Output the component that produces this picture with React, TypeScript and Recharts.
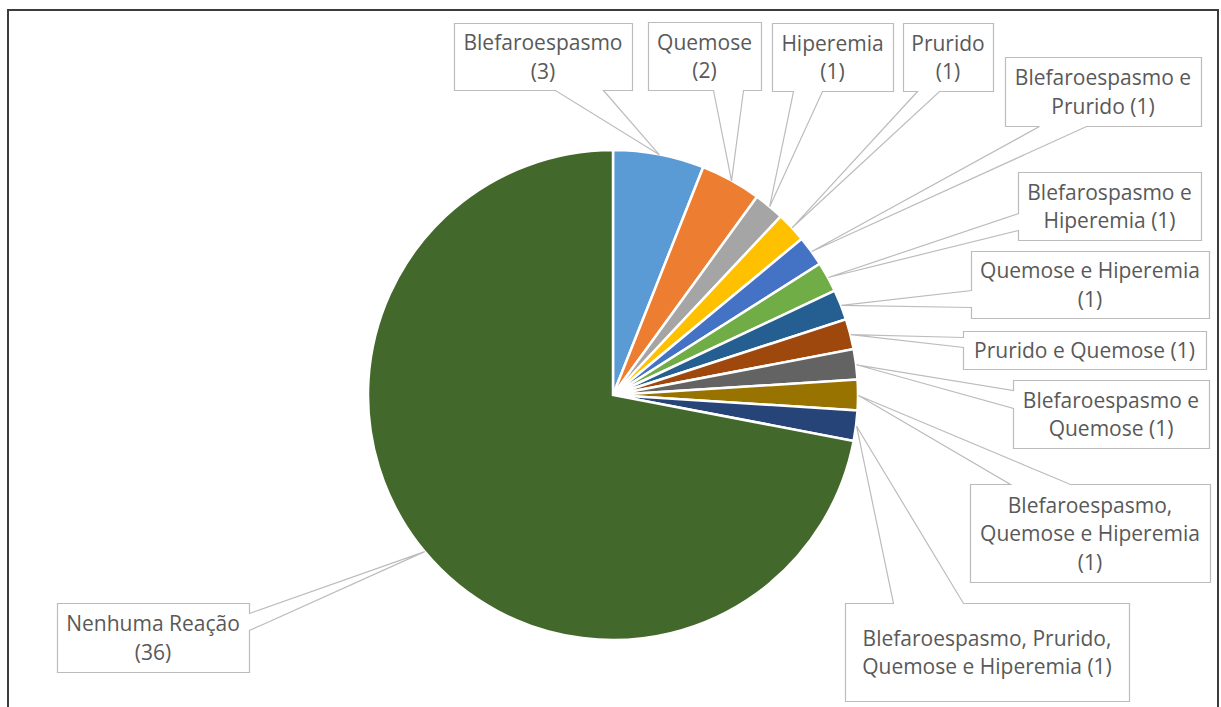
import React from "react";
import { PieChart, Pie, Cell } from "recharts";

const categories = [
  "Blefaroespasmo",
  "Quemose",
  "Hiperemia",
  "Prurido",
  "Blefaroespasmo e Prurido",
  "Blefarospasmo e Hiperemia",
  "Quemose e Hiperemia",
  "Prurido e Quemose",
  "Blefaroespasmo e Quemose",
  "Blefaroespasmo, Quemose e Hiperemia",
  "Blefaroespasmo, Prurido, Quemose e Hiperemia",
  "Nenhuma Reação",
];

const counts = [3, 2, 1, 1, 1, 1, 1, 1, 1, 1, 1, 36];

const labelLines: string[][] = [
  ["Blefaroespasmo", "(3)"],
  ["Quemose", "(2)"],
  ["Hiperemia", "(1)"],
  ["Prurido", "(1)"],
  ["Blefaroespasmo e", "Prurido (1)"],
  ["Blefarospasmo e", "Hiperemia (1)"],
  ["Quemose e Hiperemia", "(1)"],
  ["Prurido e Quemose (1)"],
  ["Blefaroespasmo e", "Quemose (1)"],
  ["Blefaroespasmo,", "Quemose e Hiperemia", "(1)"],
  ["Blefaroespasmo, Prurido,", "Quemose e Hiperemia (1)"],
  ["Nenhuma Reação", "(36)"],
];

const colors = [
  "#5B9BD5",
  "#ED7D31",
  "#A5A5A5",
  "#FFC000",
  "#4472C4",
  "#70AD47",
  "#255E91",
  "#9E480E",
  "#636363",
  "#997300",
  "#264478",
  "#43682B",
];

// callout box layout (svg coordinates), wedge side and wedge base positions
type Box = { x: number; y: number; w: number; h: number; side: string; a: number; b: number };
const boxes: Box[] = [
  { x: 445, y: 12, w: 178, h: 67, side: "bottom", a: 546, b: 594 },
  { x: 639, y: 11, w: 113, h: 68, side: "bottom", a: 704, b: 734 },
  { x: 763, y: 12, w: 121, h: 68, side: "bottom", a: 784, b: 813 },
  { x: 894, y: 12, w: 90, h: 68, side: "bottom", a: 908, b: 930 },
  { x: 996, y: 46, w: 196, h: 69, side: "bottom", a: 1030, b: 1077 },
  { x: 1009, y: 161, w: 183, h: 68, side: "left", a: 202, b: 219 },
  { x: 962, y: 240, w: 238, h: 67, side: "left", a: 279, b: 296 },
  { x: 954, y: 320, w: 243, h: 38, side: "left", a: 326, b: 336 },
  { x: 1004, y: 369, w: 196, h: 68, side: "left", a: 379, b: 397 },
  { x: 961, y: 473, w: 240, h: 98, side: "top", a: 1001, b: 1061 },
  { x: 836, y: 592, w: 284, h: 98, side: "top", a: 884, b: 954 },
  { x: 48, y: 592, w: 192, h: 69, side: "right", a: 602, b: 619 },
];

const data = categories.map((name, i) => ({ name, value: counts[i] }));

const RADIAN = Math.PI / 180;

function calloutPath(bx: Box, tx: number, ty: number) {
  const { x, y, w, h, side, a, b } = bx;
  const pts: number[][] = [];
  pts.push([x, y]);
  if (side === "top") pts.push([a, y], [tx, ty], [b, y]);
  pts.push([x + w, y]);
  if (side === "right") pts.push([x + w, a], [tx, ty], [x + w, b]);
  pts.push([x + w, y + h]);
  if (side === "bottom") pts.push([b, y + h], [tx, ty], [a, y + h]);
  pts.push([x, y + h]);
  if (side === "left") pts.push([x, b], [tx, ty], [x, a]);
  return "M" + pts.map((p) => `${p[0] + 0.5},${p[1] + 0.5}`).join("L") + "Z";
}

function renderLabel(props: any) {
  const { cx, cy, midAngle, outerRadius, index } = props;
  const tx = cx + outerRadius * Math.cos(-midAngle * RADIAN);
  const ty = cy + outerRadius * Math.sin(-midAngle * RADIAN);
  const bx = boxes[index];
  const lines = labelLines[index];
  const n = lines.length;
  const lh = 28.5;
  return (
    <g key={`lab-${index}`}>
      <path d={calloutPath(bx, tx, ty)} fill="#ffffff" stroke="#bcbcbc" strokeWidth={1.2} />
      {lines.map((ln, i) => (
        <text
          key={i}
          x={bx.x + bx.w / 2}
          y={bx.y + bx.h / 2 + (i - (n - 1) / 2) * lh + 8}
          textAnchor="middle"
          fontFamily="'Open Sans', sans-serif"
          fontSize={21}
          fill="#595959"
        >
          {ln}
        </text>
      ))}
    </g>
  );
}

export default function App() {
  return (
    <div
      style={{
        position: "fixed",
        left: 7,
        top: 9,
        width: 1212,
        height: 710,
        boxSizing: "border-box",
        border: "2px solid #3c3c3c",
        borderBottom: "none",
        background: "#ffffff",
      }}
    >
      <PieChart width={1208} height={696} margin={{ top: 0, right: 0, bottom: 0, left: 0 }}>
        <Pie
          data={data}
          dataKey="value"
          nameKey="name"
          cx={604}
          cy={384}
          outerRadius={245}
          startAngle={90}
          endAngle={-270}
          stroke="#ffffff"
          strokeWidth={2.5}
          label={renderLabel}
          labelLine={false}
          isAnimationActive={false}
        >
          {data.map((d, i) => (
            <Cell key={d.name} fill={colors[i]} />
          ))}
        </Pie>
      </PieChart>
    </div>
  );
}
